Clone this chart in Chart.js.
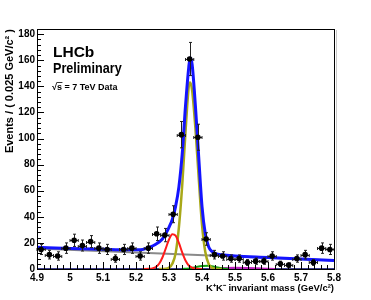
<!DOCTYPE html>
<html>
<head>
<meta charset="utf-8">
<script src="https://cdn.jsdelivr.net/npm/chart.js@4/dist/chart.umd.min.js"></script>
<style>
  html, body { margin: 0; padding: 0; background: #fff; }
  #wrap { width: 371px; height: 300px; }
</style>
</head>
<body>
<div id="wrap"><canvas id="massChart" width="371" height="300"></canvas></div>
<script>
// K+K- invariant mass, bins of 0.025 GeV/c^2
const binCenters = [4.9125, 4.9375, 4.9625, 4.9875, 5.0125, 5.0375, 5.0625, 5.0875, 5.1125, 5.1375,
  5.1625, 5.1875, 5.2125, 5.2375, 5.2625, 5.2875, 5.3125, 5.3375, 5.3625, 5.3875,
  5.4125, 5.4375, 5.4625, 5.4875, 5.5125, 5.5375, 5.5625, 5.5875, 5.6125, 5.6375,
  5.6625, 5.6875, 5.7125, 5.7375, 5.7625, 5.7875];
const counts = [15, 11, 10, 16, 22, 18, 21, 16, 15, 8,
  15, 16, 10, 16, 27, 26, 42, 103, 161, 101,
  23, 11, 10, 8, 8, 5, 6, 6, 10, 4,
  3, 8, 11, 5, 16, 15];
const countErrors = [3.9, 3.3, 3.2, 4.0, 4.7, 4.2, 4.6, 4.0, 3.9, 2.8,
  3.9, 4.0, 3.2, 4.0, 5.2, 5.1, 6.5, 10.1, 12.7, 10.0,
  4.8, 3.3, 3.2, 2.8, 2.8, 2.2, 2.4, 2.4, 3.2, 2.0,
  1.7, 2.8, 3.3, 2.2, 4.0, 3.9];
const binHalfWidth = 0.0125;

// fit curves
const totalX = [4.9, 5.0, 5.1, 5.18, 5.2, 5.22, 5.24, 5.26, 5.28, 5.29, 5.30, 5.31, 5.32, 5.33, 5.34, 5.35,
  5.36, 5.364, 5.37, 5.38, 5.39, 5.40, 5.41, 5.42, 5.43, 5.44, 5.46, 5.5, 5.6, 5.7, 5.8];
const totalY = [16.6, 15.8, 15.1, 14.7, 14.8, 15.0, 16.6, 19, 23, 27, 32, 38, 48, 63, 88, 125,
  155, 162, 157, 125, 86, 48, 27, 17, 13.5, 12, 10.9, 10.0, 8.9, 7.7, 6.6];
const bsX = [5.27, 5.29, 5.30, 5.31, 5.32, 5.33, 5.34, 5.35, 5.36, 5.364, 5.37, 5.38, 5.39, 5.40, 5.41, 5.42, 5.43, 5.44, 5.46];
const bsY = [0, 0.2, 1, 4, 12, 32, 64, 105, 140, 143, 137, 108, 70, 34, 13, 4, 1, 0.2, 0];
const bdX = [5.22, 5.24, 5.25, 5.26, 5.27, 5.28, 5.29, 5.30, 5.31, 5.32, 5.33, 5.34, 5.35, 5.36, 5.37, 5.38, 5.40];
const bdY = [0, 0.1, 0.5, 1.5, 4, 8.8, 15.6, 22.6, 26.7, 25.6, 20, 12.7, 6.5, 2.7, 1, 0.3, 0];
const reflX = [5.34, 5.36, 5.38, 5.40, 5.42, 5.44, 5.46, 5.48];
const reflY = [0, 0.4, 1.4, 2.3, 2.4, 1.5, 0.5, 0];
const partX = [5.42, 5.46, 5.50, 5.54, 5.58, 5.62];
const partY = [0, 0.6, 0.9, 0.8, 0.4, 0];
const combX = [4.9, 5.8];
const combY = [15.8, 6.5];
const flatX = [4.9, 5.8];
const flatY = [0, 0];

const xTickValues = [4.9, 5.0, 5.1, 5.2, 5.3, 5.4, 5.5, 5.6, 5.7, 5.8];
const yTickValues = [0, 20, 40, 60, 80, 100, 120, 140, 160, 180];

function pts(xs, ys) {
  return xs.map((v, i) => ({x: v, y: ys[i]}));
}

function curve(xs, ys, color, width) {
  return {
    type: 'line',
    data: pts(xs, ys),
    borderColor: color,
    borderWidth: width,
    pointRadius: 0,
    fill: false,
    cubicInterpolationMode: 'monotone'
  };
}

const errorBars = {
  id: 'errorBars',
  beforeDatasetDraw(chart, args) {
    if (args.index !== 0) return;
    const {ctx, scales: {x, y}} = chart;
    ctx.save();
    ctx.strokeStyle = '#222';
    ctx.lineWidth = 1;
    ctx.beginPath();
    binCenters.forEach((m, i) => {
      const px = Math.round(x.getPixelForValue(m)) + 0.5;
      const py = Math.round(y.getPixelForValue(counts[i])) + 0.5;
      const x0 = x.getPixelForValue(m - binHalfWidth);
      const x1 = x.getPixelForValue(m + binHalfWidth);
      const y0 = y.getPixelForValue(counts[i] - countErrors[i]);
      const y1 = y.getPixelForValue(counts[i] + countErrors[i]);
      ctx.moveTo(x0, py); ctx.lineTo(x1, py);
      ctx.moveTo(px, y0); ctx.lineTo(px, y1);
      ctx.moveTo(x0, py - 1.5); ctx.lineTo(x0, py + 1.5);
      ctx.moveTo(x1, py - 1.5); ctx.lineTo(x1, py + 1.5);
      ctx.moveTo(px - 1.5, y0); ctx.lineTo(px + 1.5, y0);
      ctx.moveTo(px - 1.5, y1); ctx.lineTo(px + 1.5, y1);
    });
    ctx.stroke();
    ctx.restore();
  }
};

const frame = {
  id: 'frame',
  afterDraw(chart) {
    const {ctx, chartArea: a, scales: {x, y}} = chart;
    ctx.save();
    ctx.strokeStyle = '#000';
    ctx.lineWidth = 1;
    ctx.strokeRect(a.left + 0.5, a.top + 0.5, a.right - a.left, a.bottom - a.top);
    ctx.strokeStyle = '#c8c8c8';
    ctx.beginPath();
    ctx.moveTo(a.right + 2.5, a.top + 1); ctx.lineTo(a.right + 2.5, a.bottom + 1);
    ctx.stroke();

    // ticks inside the frame, ROOT style
    ctx.strokeStyle = '#000';
    ctx.beginPath();
    for (let v = 0; v <= 180; v += 4) {
      const py = Math.round(y.getPixelForValue(v)) + 0.5;
      const len = v % 20 === 0 ? 7 : 4;
      ctx.moveTo(a.left, py); ctx.lineTo(a.left + len, py);
    }
    for (let k = 0; k <= 45; k++) {
      const v = 4.9 + k * 0.02;
      const px = Math.round(x.getPixelForValue(v)) + 0.5;
      const len = k % 5 === 0 ? 7 : 4;
      ctx.moveTo(px, a.bottom); ctx.lineTo(px, a.bottom - len);
    }
    ctx.stroke();

    // labels
    ctx.fillStyle = '#000';
    ctx.textBaseline = 'alphabetic';
    ctx.font = "bold 15.5px 'Liberation Sans', Arial, sans-serif";
    ctx.fillText('LHCb', 53, 57);
    ctx.save();
    ctx.translate(53, 72.5);
    ctx.scale(0.9, 1);
    ctx.font = "bold 14px 'Liberation Sans', Arial, sans-serif";
    ctx.fillText('Preliminary', 0, 0);
    ctx.restore();
    ctx.font = "bold 9px 'Liberation Sans', Arial, sans-serif";
    const root = '\u221A';
    ctx.fillText(root + 's = 7 TeV Data', 52, 90);
    const rw = ctx.measureText(root).width;
    const sw = ctx.measureText('s').width;
    ctx.beginPath();
    ctx.lineWidth = 0.8;
    ctx.moveTo(52 + rw - 0.5, 82.5); ctx.lineTo(52 + rw + sw + 0.5, 82.5);
    ctx.stroke();
    ctx.restore();
  }
};

Chart.defaults.font.family = "'Liberation Sans', Arial, sans-serif";
Chart.defaults.font.weight = 'bold';
Chart.defaults.color = '#000';

const ctx = document.getElementById('massChart').getContext('2d');
new Chart(ctx, {
  type: 'scatter',
  data: {
    datasets: [
      {
        type: 'scatter',
        data: pts(binCenters, counts),
        pointRadius: 2.8,
        pointBackgroundColor: '#000',
        pointBorderWidth: 0,
        showLine: false
      },
      curve(totalX, totalY, '#1414ff', 3),
      curve(bdX, bdY, '#ff1a1a', 2),
      curve(bsX, bsY, '#a8a818', 2.5),
      curve(reflX, reflY, '#10a010', 2),
      curve(partX, partY, '#c020c0', 2),
      curve(combX, combY, '#8a8a8a', 2),
      curve(flatX, flatY, '#404090', 2)
    ]
  },
  options: {
    responsive: false,
    animation: false,
    devicePixelRatio: 1,
    layout: { padding: { left: 0, right: 37, top: 29, bottom: 0 } },
    plugins: { legend: { display: false }, tooltip: { enabled: false } },
    scales: {
      x: {
        type: 'linear',
        min: 4.9,
        max: 5.8,
        afterFit: s => { s.height = 31; },
        afterBuildTicks: s => { s.ticks = xTickValues.map(v => ({value: v})); },
        grid: { display: false, drawTicks: false },
        border: { display: false },
        ticks: {
          autoSkip: false,
          maxRotation: 0,
          padding: 3,
          font: { size: 10, weight: 'bold' },
          callback: v => String(Number(v.toFixed(1)))
        },
        title: {
          display: true,
          text: 'K\u207AK\u207B invariant mass (GeV/c\u00B2)',
          align: 'end',
          font: { size: 9.5, weight: 'bold' },
          padding: { top: 0, bottom: 6 }
        }
      },
      y: {
        type: 'linear',
        min: 0,
        max: 184,
        afterFit: s => { s.width = 37; },
        afterBuildTicks: s => { s.ticks = yTickValues.map(v => ({value: v})); },
        grid: { display: false, drawTicks: false },
        border: { display: false },
        ticks: {
          padding: 2,
          font: { size: 10, weight: 'bold' }
        },
        title: {
          display: true,
          text: 'Events / ( 0.025 GeV/c\u00B2 )',
          align: 'end',
          font: { size: 11, weight: 'bold' },
          padding: { top: 3.5, bottom: 0 }
        }
      }
    }
  },
  plugins: [errorBars, frame]
});
</script>
</body>
</html>
